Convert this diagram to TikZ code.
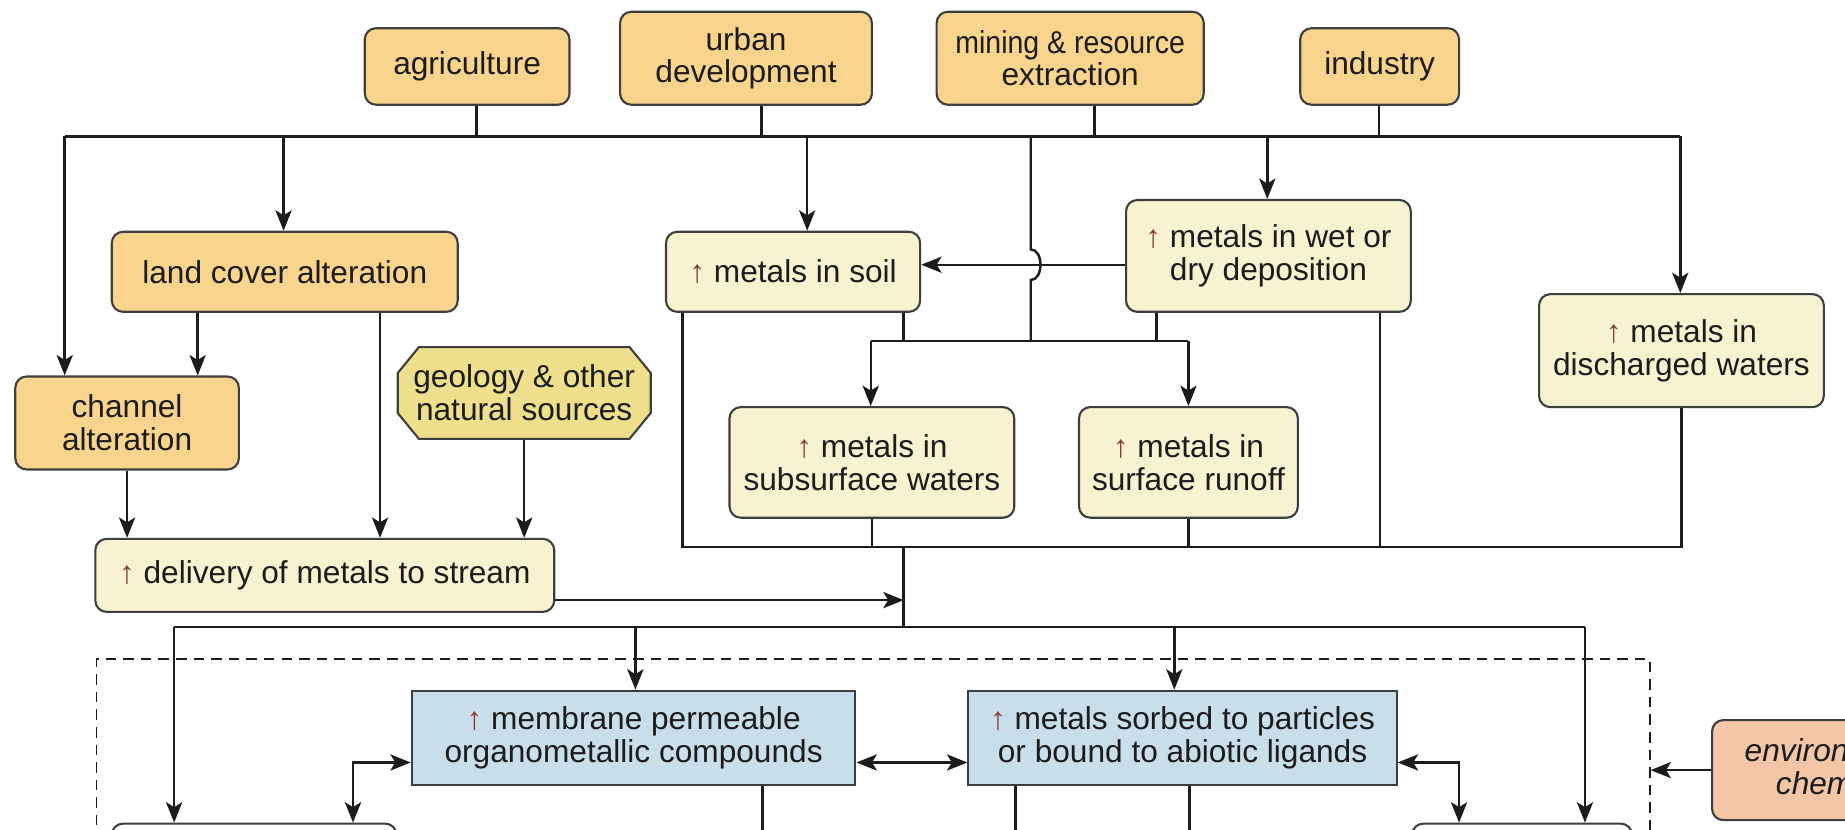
\documentclass[tikz,border=0pt]{standalone}
\usepackage{fontspec}
\setmainfont{Liberation Sans}
\usetikzlibrary{arrows.meta,positioning,calc}
\usepackage{xcolor}
\definecolor{source}{HTML}{F9D48D}
\definecolor{pool}{HTML}{F7F3D1}
\definecolor{natural}{HTML}{EDDF8B}
\definecolor{biota}{HTML}{C8DEEA}
\definecolor{modifier}{HTML}{F2C6A6}
\definecolor{ink}{HTML}{1C1C1C}
\definecolor{uparr}{HTML}{8B3A2E}
\newcommand{\un}{0.011767cm}
\newcommand{\up}{\textcolor{uparr}{↑}}
\tikzset{
  >={Stealth[length=5.8pt,width=4.6pt,inset=1.4pt]},
  every node/.style={font=\fontsize{9}{9.3}\selectfont,text=ink},
  sz/.style 2 args={minimum width=#1*\un,minimum height=#2*\un},
  box/.style={draw=ink!85,line width=0.6pt,rounded corners=3.2pt,align=center,inner sep=2pt},
  srcbox/.style={box,fill=source},
  poolbox/.style={box,fill=pool},
  natline/.style={draw=ink!85,line width=0.6pt,fill=natural},
  biobox/.style={box,fill=biota,sharp corners},
  modbox/.style={box,fill=modifier},
  zone/.style={draw=ink,line width=0.5pt,dash pattern=on 3pt off 2pt},
  wire/.style={draw=ink,line width=0.7pt},
  arrow/.style={wire,->},
  twoway/.style={wire,<->},
}

\begin{document}
\begin{tikzpicture}[x=\un,y=-\un]
\useasboundingbox (0,0) rectangle (1568,705);
\clip (0,0) rectangle (1568,705);

% sources
\node[srcbox,sz={174}{65}] (agri) at (397,56.5) {agriculture};
\node[srcbox,sz={214}{79}] (urban) at (634,49.5) {urban\\development};
\node[srcbox,sz={227}{79}] (mining) at (909.5,49.5) {\scalebox{0.9}[1]{mining \& resource}\\extraction};
\node[srcbox,sz={135}{65}] (industry) at (1172.5,56.5) {industry};

% pathways
\node[srcbox,sz={294}{68}] (landcov) at (242,231) {land cover alteration};
\node[srcbox,sz={190}{79}] (channel) at (108,359.5) {channel\\alteration};
\coordinate (geoC) at (445.5,334);
\draw[natline] ($(geoC)+(-89.5,-39)$) -- ($(geoC)+(89.5,-39)$) -- ($(geoC)+(107.5,-17)$) -- ($(geoC)+(107.5,17)$)
  -- ($(geoC)+(89.5,39)$) -- ($(geoC)+(-89.5,39)$) -- ($(geoC)+(-107.5,17)$) -- ($(geoC)+(-107.5,-17)$) -- cycle;
\node[sz={215}{78},align=center,inner sep=0pt] (geology) at (geoC) {geology \& other\\natural sources};
\node[poolbox,sz={216}{68}] (soil) at (674,231) {\up{} metals in soil};
\node[poolbox,sz={242}{95}] (depo) at (1078,217.5) {\up{} metals in wet or\\dry deposition};
\node[poolbox,sz={242}{96}] (disch) at (1429,298) {\up{} metals in\\discharged waters};
\node[poolbox,sz={242}{94}] (subsurf) at (741,393) {\up{} metals in\\subsurface waters};
\node[poolbox,sz={186}{94}] (runoff) at (1010,393) {\up{} metals in\\surface runoff};
\node[poolbox,sz={390}{62}] (delivery) at (276,489) {\up{} delivery of metals to stream};

% stream
\node[zone,sz={1320}{200}] (zone) at (742,660) {};
\node[biobox,sz={377}{80}] (membrane) at (538.5,627) {\up{} membrane permeable\\organometallic compounds};
\node[biobox,sz={364}{80}] (sorbed) at (1005,627) {\up{} metals sorbed to particles\\or bound to abiotic ligands};
\node[modbox,sz={225}{85}] (envchem) at (1567.5,654.5) {\textit{environmental}\\\textit{chemistry}};
\node[box,sz={242}{60}] (sinkL) at (216,730) {};
\node[box,sz={187}{60}] (sinkR) at (1293.5,730) {};

% source bus
\coordinate (busW) at (55,116);
\coordinate (busE) at (1428,116);
\coordinate (tapA) at (405,116);
\coordinate (tapU) at (647,116);
\coordinate (tapM) at (930,116);
\coordinate (tapI) at (1172,116);
\coordinate (toLand) at (241,116);
\coordinate (toSoil) at (686,116);
\coordinate (toDepo) at (1077,116);
\coordinate (mineDrop) at (876,116);
\draw[wire] (busW) -- (busE);
\foreach \s/\t in {agri/tapA,urban/tapU,mining/tapM,industry/tapI}{\draw[wire] (\s.south -| \t) -- (\t);}
\draw[arrow] (busW) -- (channel.north -| busW);
\draw[arrow] (toLand) -- (landcov.north -| toLand);
\draw[arrow] (toSoil) -- (soil.north -| toSoil);
\draw[arrow] (toDepo) -- (depo.north -| toDepo);
\draw[arrow] (busE) -- (disch.north -| busE);

% land cover and natural sources
\coordinate (lcA) at (168,0);
\coordinate (lcB) at (323,0);
\draw[arrow] (landcov.south -| lcA) -- (channel.north -| lcA);
\draw[arrow] (landcov.south -| lcB) -- (delivery.north -| lcB);
\draw[arrow] (channel.south) -- (delivery.north -| channel.south);
\draw[arrow] (geology.south) -- (delivery.north -| geology.south);

% deposition to soil, mining line hops over
\coordinate (hop) at (876,225);
\coordinate (split) at (876,290);
\draw[arrow] (depo.west |- hop) -- (soil.east |- hop);
\draw[wire] (mineDrop) -- ($(hop)+(0,-13)$) .. controls ($(hop)+(11,-13)$) and ($(hop)+(11,13)$) .. ($(hop)+(0,13)$) -- (split);

% to waters
\coordinate (feedSub) at (740,290);
\coordinate (feedRun) at (1010,290);
\coordinate (soilTap) at (768,290);
\coordinate (depoTap) at (983,290);
\draw[wire] (feedSub) -- (feedRun);
\draw[wire] (soil.south -| soilTap) -- (soilTap);
\draw[wire] (depo.south -| depoTap) -- (depoTap);
\draw[arrow] (feedSub) -- (subsurf.north -| feedSub);
\draw[arrow] (feedRun) -- (runoff.north -| feedRun);

% collector
\coordinate (colW) at (580,465);
\coordinate (colE) at (1429,465);
\coordinate (colDepo) at (1173,465);
\coordinate (colOut) at (768,465);
\draw[wire] (soil.south -| colW) -- (colW) -- (colE) -- (disch.south -| colE);
\draw[wire] (subsurf.south) -- (subsurf.south |- colW);
\draw[wire] (runoff.south) -- (runoff.south |- colW);
\draw[wire] (depo.south -| colDepo) -- (colDepo);

% into the stream
\coordinate (inflow) at (768,510);
\coordinate (fanC) at (768,533);
\coordinate (fanW) at (148,533);
\coordinate (fanE) at (1347,533);
\coordinate (toMem) at (540,533);
\coordinate (toSorb) at (998,533);
\draw[wire] (colOut) -- (fanC);
\draw[arrow] (delivery.east |- inflow) -- (inflow);
\draw[wire] (fanW) -- (fanE);
\draw[arrow] (fanW) -- (sinkL.north -| fanW);
\draw[arrow] (fanE) -- (sinkR.north -| fanE);
\draw[arrow] (toMem) -- (membrane.north -| toMem);
\draw[arrow] (toSorb) -- (sorbed.north -| toSorb);

% exchanges
\coordinate (xL) at (300,648);
\coordinate (xR) at (1240,648);
\draw[twoway] (membrane.east |- xL) -- (sorbed.west |- xL);
\draw[twoway] (membrane.west |- xL) -| (sinkL.north -| xL);
\draw[twoway] (sorbed.east |- xR) -| (sinkR.north -| xR);
\coordinate (memOut) at (648,720);
\coordinate (sorbOutA) at (863,720);
\coordinate (sorbOutB) at (1011,720);
\draw[wire] (membrane.south -| memOut) -- (memOut);
\draw[wire] (sorbed.south -| sorbOutA) -- (sorbOutA);
\draw[wire] (sorbed.south -| sorbOutB) -- (sorbOutB);
\draw[arrow] (envchem.west) -- (envchem.west -| zone.east);

\end{tikzpicture}
\end{document}
